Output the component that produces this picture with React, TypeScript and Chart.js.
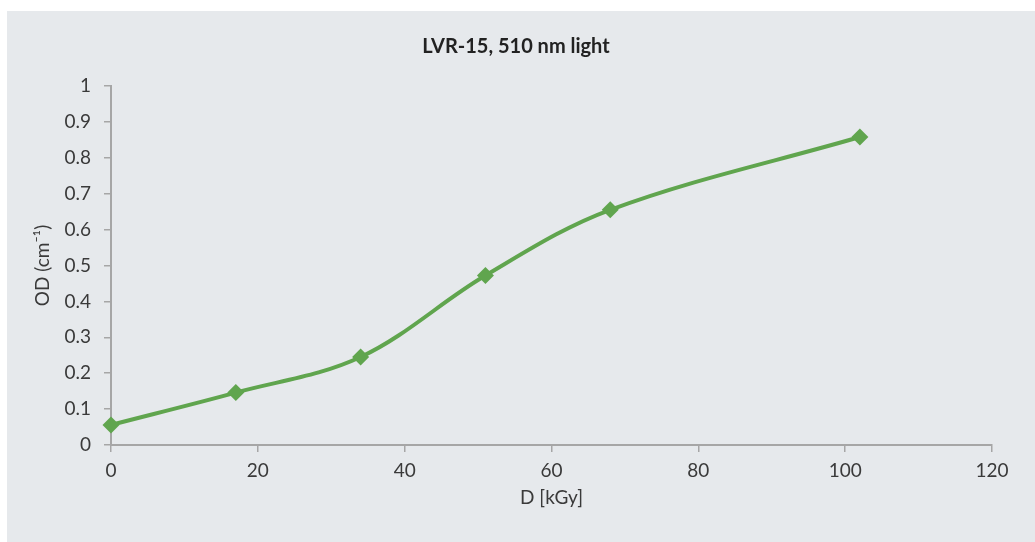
import React, { useEffect, useRef } from "react";
import { Chart, registerables } from "chart.js";

Chart.register(...registerables);

// Absorbed dose (kGy) and optical density (1/cm)
const doseKGy = [0, 17, 34, 51, 68, 102];
const opticalDensity = [0.056, 0.146, 0.245, 0.472, 0.655, 0.858];

const chartTitle = "LVR-15, 510 nm light";
const xAxisTitle = "D [kGy]";
const yAxisTitle = "OD (cm\u207B\u00B9)";

const xTicks = [0, 20, 40, 60, 80, 100, 120];
const yTicks = [0, 0.1, 0.2, 0.3, 0.4, 0.5, 0.6, 0.7, 0.8, 0.9, 1];

const FONT = "Lato, 'Open Sans', sans-serif";
const GREEN = "#60a54e";
const AXIS = "#a6a6a6";
const TEXT = "#3a3a3a";

export default function App() {
  const canvasRef = useRef<HTMLCanvasElement | null>(null);

  useEffect(() => {
    const canvas = canvasRef.current;
    if (!canvas) return;
    const chart = new Chart(canvas, {
      type: "scatter",
      data: {
        datasets: [
          {
            data: doseKGy.map((d, i) => ({ x: d, y: opticalDensity[i] })),
            showLine: true,
            clip: false,
            borderColor: GREEN,
            backgroundColor: GREEN,
            borderWidth: 4,
            tension: 0.35,
            pointStyle: "rectRot",
            pointRadius: 8.5,
            pointBorderWidth: 0,
            pointBackgroundColor: GREEN,
          },
        ],
      },
      options: {
        responsive: false,
        animation: false,
        layout: { padding: { top: 0, right: 10, bottom: 0, left: 0 } },
        plugins: {
          legend: { display: false },
          tooltip: { enabled: false },
          title: {
            display: true,
            text: chartTitle,
            color: "#222",
            font: { family: FONT, size: 20, weight: "bold", lineHeight: 1.2 },
            padding: { top: 24, bottom: 27 },
          },
        },
        scales: {
          x: {
            type: "linear",
            min: 0,
            max: 120,
            afterBuildTicks: (scale: any) => {
              scale.ticks = xTicks.map((v) => ({ value: v }));
            },
            afterFit: (scale: any) => {
              scale.height = 97;
            },
            ticks: {
              color: TEXT,
              font: { family: FONT, size: 19 },
              padding: 7,
              maxRotation: 0,
            },
            grid: {
              display: true,
              drawOnChartArea: false,
              drawTicks: true,
              tickLength: 7,
              color: AXIS,
              lineWidth: 1.5,
            },
            border: { display: true, color: AXIS, width: 2 },
            title: {
              display: true,
              text: xAxisTitle,
              color: TEXT,
              font: { family: FONT, size: 19, lineHeight: 1.2 },
              padding: { top: 0, bottom: 33 },
            },
          },
          y: {
            type: "linear",
            min: 0,
            max: 1,
            afterBuildTicks: (scale: any) => {
              scale.ticks = yTicks.map((v) => ({ value: v }));
            },
            afterFit: (scale: any) => {
              scale.width = 104;
            },
            ticks: {
              color: TEXT,
              font: { family: FONT, size: 19 },
              padding: 13,
              callback: (v: any) => String(Number(Number(v).toFixed(1))),
            },
            grid: {
              display: true,
              drawOnChartArea: false,
              drawTicks: true,
              tickLength: 7,
              color: AXIS,
              lineWidth: 1.5,
            },
            border: { display: true, color: AXIS, width: 2 },
            title: {
              display: true,
              text: yAxisTitle,
              color: TEXT,
              font: { family: FONT, size: 19, lineHeight: 1.2 },
              padding: { top: 24, bottom: 0 },
            },
          },
          // empty spacer on the right edge of the plot
          spacer: {
            type: "linear",
            position: "right",
            min: 0,
            max: 1,
            afterFit: (scale: any) => {
              scale.width = 33;
            },
            ticks: { display: false },
            grid: { display: false },
            border: { display: false },
          },
        },
      },
    });
    return () => chart.destroy();
  }, []);

  return (
    <div
      style={{
        position: "absolute",
        left: 7,
        top: 11,
        width: 1028,
        height: 531,
        background: "#e6e9ec",
      }}
    >
      <canvas ref={canvasRef} width={1028} height={531} style={{ display: "block" }} />
    </div>
  );
}
